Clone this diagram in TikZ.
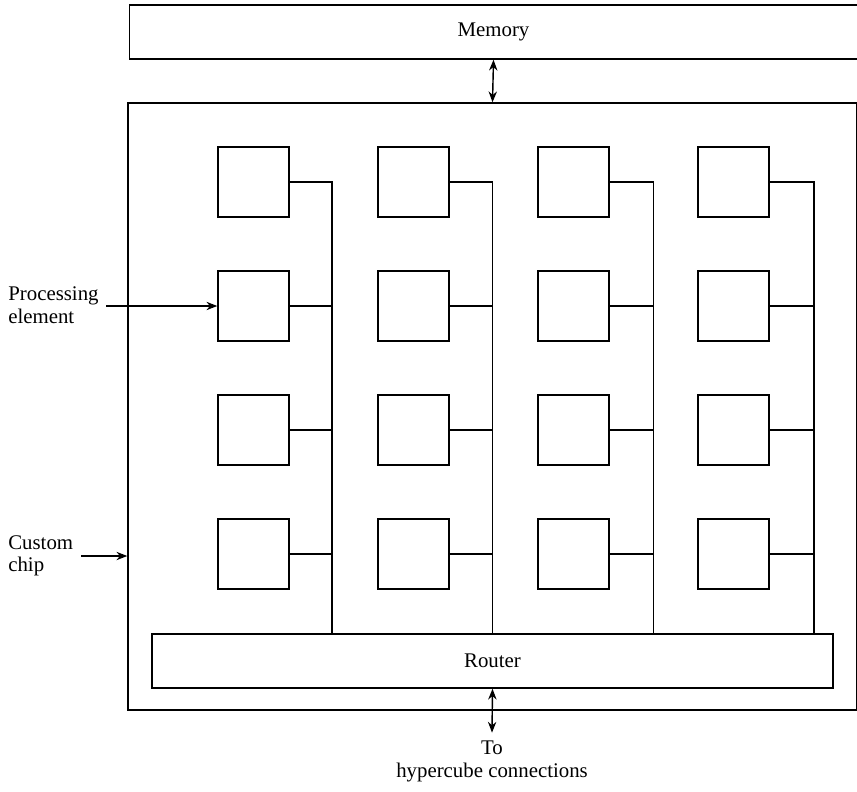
\documentclass[tikz,border=0pt]{standalone}
\usepackage{fontspec}
\setmainfont{Liberation Serif}
\usetikzlibrary{positioning, arrows.meta, calc}
\newcommand{\lbl}{\fontsize{12.5}{13.5}\selectfont}
\tikzset{
  unit/.style={draw, line width=0.85pt, minimum width=42.6pt, minimum height=42pt, inner sep=0pt},
  blockbox/.style={draw, line width=0.85pt, inner sep=0pt, font=\lbl},
  wire/.style={line width=0.85pt},
  arr/.style={line width=0.85pt, -{Stealth[length=6.5pt,width=5pt]}},
  dbl/.style={line width=0.85pt, {Stealth[length=6.5pt,width=5pt]}-{Stealth[length=6.5pt,width=5pt]}},
  lbl/.style={font=\lbl, align=left, inner sep=0pt},
}

\begin{document}
\begin{tikzpicture}[x=0.6pt, y=-0.6pt]
  \useasboundingbox (0,0) rectangle (857,791);
  \clip (0,0) rectangle (857,791);
  % Memory and custom chip outlines
  \node[blockbox, minimum width=437pt, minimum height=32.4pt] (memory) at (493.5, 32) {Memory};
  \node[blockbox, minimum width=437.4pt, minimum height=364.2pt] (chip) at (492.5, 406.5) {};
  \node[blockbox, minimum width=408.6pt, minimum height=32.4pt] (router) at (492.5, 661) {Router};
  % Processing elements, 4 x 4
  \foreach \c in {1,...,4} {
    \foreach \r in {1,...,4}
      \node[unit] (pe-\c-\r) at ({253.5+160*(\c-1)}, {182+124*(\r-1)}) {};
    % Column bus down to the router
    \coordinate (bus-\c) at ({332+160.7*(\c-1)}, 182);
    \draw[wire] (pe-\c-1.east) -- (bus-\c) -- (bus-\c |- router.north);
    \foreach \r in {2,3,4}
      \draw[wire] (pe-\c-\r.east) -- (pe-\c-\r.east -| bus-\c);
  }
  % Memory link
  \draw[dbl] (memory.south) -- (chip.north);
  % Outside labels
  \node[lbl, anchor=west] (pelabel) at (8, 305) {Processing\\element};
  \draw[arr] ([xshift=4.5pt]pelabel.east |- pe-1-2.west) -- (pe-1-2.west);
  \node[lbl, anchor=west] (chiplabel) at (8, 556) {Custom\\chip};
  \draw[arr] ([xshift=4.8pt]chiplabel.east) -- (chiplabel.east -| chip.west);
  % Hypercube link
  \node[lbl, align=center, anchor=north] (hyper) at (492, 741) {To\\hypercube connections};
  \draw[dbl] (router.south) -- ([yshift=5pt]hyper.north);
\end{tikzpicture}
\end{document}
